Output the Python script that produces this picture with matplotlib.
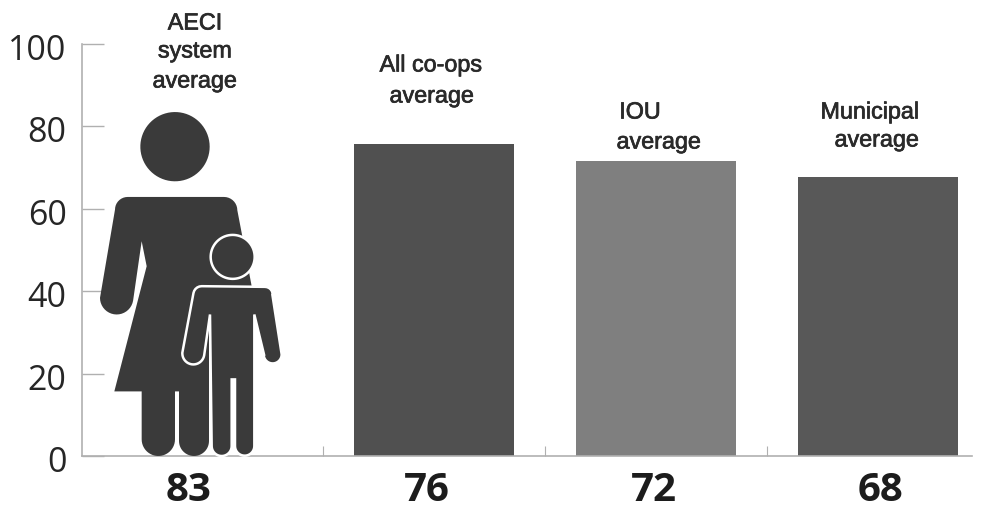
import numpy as np
import matplotlib
matplotlib.use("Agg")
import matplotlib.pyplot as plt
from matplotlib.path import Path
from matplotlib.patches import PathPatch
from matplotlib.transforms import ScaledTranslation
import matplotlib.patheffects as pe

categories = ["AECI\nsystem\naverage", "All co-ops\naverage", "IOU\naverage", "Municipal\naverage"]
values = [83, 76, 72, 68]               # printed under each column
bar_heights = [75.7, 71.6, 67.7]        # heights
bar_colors = ["#505050", "#7f7f7f", "#585858"]
yticks = [0, 20, 40, 60, 80, 100]

W, H = 984, 506
L, R, T, B = 82, 972, 45, 457
fig = plt.figure(figsize=(W / 100, H / 100), dpi=100)
ax = fig.add_axes([L / W, 1 - B / H, (R - L) / W, (B - T) / H])
band = 222.0
x0 = 212.0  # pixel centre of first band
ax.set_xlim((L - x0) / band, (R - x0) / band)
ax.set_ylim(0, 100)

# Bars
bx = np.arange(1, 4)
ax.bar(bx, bar_heights, width=160 / band, color=bar_colors, linewidth=0, zorder=2)

# Axes styling
for s in ("top", "right"):
    ax.spines[s].set_visible(False)
for s in ("left", "bottom"):
    ax.spines[s].set_color("#b0b0b0")
    ax.spines[s].set_linewidth(1.2)
ax.set_yticks(yticks)
ax.tick_params(axis="y", direction="in", length=16, width=1.0, color="#b0b0b0",
               pad=11, labelsize=24.5, labelcolor="#262626")
ax.set_xticks(np.arange(3) + 0.5)
ax.set_xticklabels([])
ax.tick_params(axis="x", direction="in", length=7, width=0.8, color="#b0b0b0")
shift = ScaledTranslation(0, -2 / 100, fig.dpi_scale_trans)
for t in ax.get_yticklabels():
    t.set_fontfamily("Open Sans")
    t.set_transform(t.get_transform() + shift)

# Pictogram: outline units are scaled from the first value
def arc(cx, cy, r, a0, a1, n=24):
    a = np.radians(np.linspace(a0, a1, n))
    return [(cx + r * np.cos(t), cy + r * np.sin(t)) for t in a]

BASE, TOP = 1370.0, 343.0
unit_y = values[0] / (BASE - TOP)
def to_data(pts):
    p = np.asarray(pts, float)
    return np.column_stack([(p[:, 0] / 3 - x0) / band, (BASE - p[:, 1]) * unit_y])

def shape(pts, **kw):
    d = to_data(pts + [pts[0]])
    codes = [Path.MOVETO] + [Path.LINETO] * (len(d) - 2) + [Path.CLOSEPOLY]
    ax.add_patch(PathPatch(Path(d, codes), clip_on=False, **kw))

def head(cx, cy, r, **kw):
    shape(arc(cx, cy, r, 0, 360, 72)[:-1], **kw)

dark = "#3a3a3a"
head(525, 441, 104, facecolor=dark, edgecolor="none", zorder=3)
woman = (arc(383, 630, 38, 270, 180, 10) +
         [(300, 895)] + arc(350, 895, 50, 180, 10, 20) +
         [(425, 725), (440, 800), (343, 1176), (425, 1176)] +
         arc(475, 1320, 50, 180, 0) +
         [(525, 1176), (537, 1176)] + arc(582, 1325, 45, 180, 0) +
         [(627, 1000), (755, 860), (725, 700)] + arc(672, 632, 40, 0, -90, 10))
shape(woman, facecolor=dark, edgecolor="none", zorder=3)

child = (arc(605, 885, 25, 270, 190, 6) +
         [(547, 1060)] + arc(580, 1062, 33, 180, 10, 20) +
         [(630, 945)] + arc(665, 1340, 30, 180, 0) +
         [(695, 1140), (705, 1140)] + arc(734, 1340, 29, 180, 0) +
         [(763, 945), (792, 1065)] + arc(818, 1065, 27, 180, 0) +
         [(817, 885)] + arc(795, 885, 23, -10, -90, 6))
shape(child, facecolor=dark, edgecolor="white", linewidth=1.8, zorder=4)
head(698, 772, 66, facecolor=dark, edgecolor="white", linewidth=1.8, zorder=4)

# Value labels below the axis
val_px = [189, 427, 654, 881]
for v, px in zip(values, val_px):
    ax.annotate(str(v), xy=((px - x0) / band, 0), xycoords="data", xytext=(0, -10),
                textcoords="offset points", ha="center", va="top",
                fontsize=29, fontweight="bold", fontfamily="Open Sans",
                color="#1c1c1c", annotation_clip=False)

# Category captions: one entry per line, pixel placement
cap_lines = [
    [(195, 24), (195, 52), (195, 82)],
    [(431, 66), (432, 97)],
    [(640, 113), (659, 143)],
    [(870, 113), (877, 141)],
]
stroke = [pe.withStroke(linewidth=0.5, foreground="#2a2a2a")]
for cat, lines in zip(categories, cap_lines):
    for text, (px, py) in zip(cat.split("\n"), lines):
        fig.text(px / W, 1 - py / H, text, ha="center", va="center",
                 fontsize=16.8, fontfamily="Liberation Sans", color="#2a2a2a",
                 path_effects=stroke)

fig.savefig("out.png", dpi=100)
